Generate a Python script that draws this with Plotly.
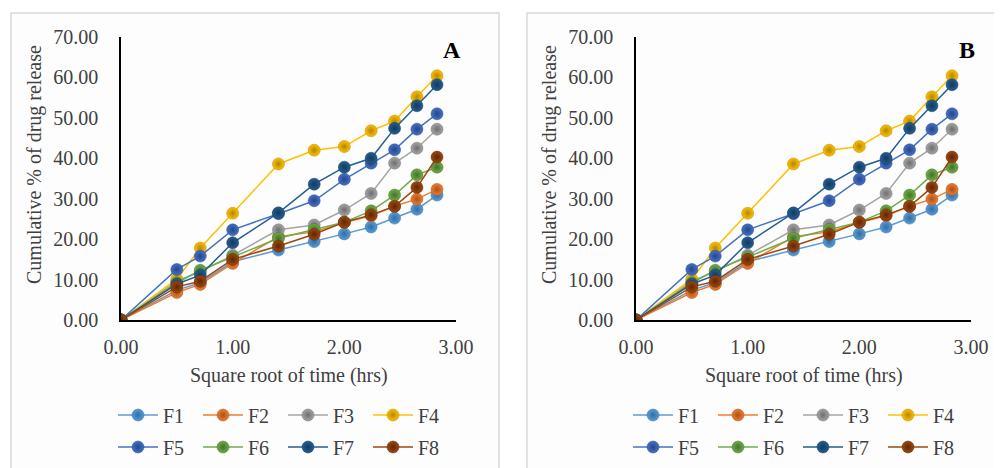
import plotly.graph_objects as go

# Data
sqrt_time = [0.00, 0.50, 0.71, 1.00, 1.41, 1.73, 2.00, 2.24, 2.45, 2.65, 2.83]
series_names = ["F1", "F2", "F3", "F4", "F5", "F6", "F7", "F8"]
F1 = [0, 7.4, 9.2, 14.4, 17.3, 19.4, 21.3, 23.0, 25.2, 27.4, 30.9]
F2 = [0, 6.8, 8.8, 14.0, 20.6, 21.8, 24.1, 25.8, 28.2, 29.9, 32.3]
F3 = [0, 9.6, 12.0, 16.0, 22.3, 23.5, 27.2, 31.3, 38.8, 42.5, 47.2]
F4 = [0, 10.1, 17.8, 26.4, 38.6, 42.0, 42.9, 46.8, 49.2, 55.2, 60.4]
F5 = [0, 12.5, 15.8, 22.3, 26.3, 29.5, 34.8, 38.8, 42.1, 47.2, 51.0]
F6 = [0, 9.2, 12.3, 15.6, 20.2, 22.4, 24.2, 27.0, 30.9, 35.9, 37.8]
F7 = [0, 8.9, 11.1, 19.1, 26.5, 33.6, 37.8, 40.0, 47.4, 53.0, 58.2]
F8 = [0, 8.2, 9.6, 15.0, 18.3, 21.2, 24.2, 26.0, 28.1, 32.8, 40.3]
series_values = [F1, F2, F3, F4, F5, F6, F7, F8]
y_ticks = [0, 10, 20, 30, 40, 50, 60, 70]
x_ticks = [0, 1, 2, 3]
panel_labels = ["A", "B"]

colors = ["#5B9BD5", "#ED7D31", "#A5A5A5", "#FFC000",
          "#4472C4", "#70AD47", "#255E91", "#9E480E"]
edge_colors = ["#2E6DA4", "#A8521A", "#6E6E6E", "#B38600",
               "#26458A", "#43712A", "#123A5E", "#5E2705"]

W, H = 1002, 468
OFF = 8  # page body margin
FONT = "Liberation Serif"
TXT = "#404040"
FS = 20


def sx(px):
    return (px - OFF) / W


def sy(py):
    return 1 - (py - OFF) / H


# panel geometry in screen pixels
panels = [
    dict(left=121, right=456, box=(11, 499)),
    dict(left=636, right=971, box=(527, 1030)),
]
y_top, y_bot = 37, 320

fig = go.Figure()

for p, panel in enumerate(panels):
    xa = "x" if p == 0 else "x2"
    ya = "y" if p == 0 else "y2"
    for i, (name, vals) in enumerate(zip(series_names, series_values)):
        leg_idx = 2 * p + (1 if i < 4 else 2)
        leg = "legend" if leg_idx == 1 else f"legend{leg_idx}"
        fig.add_trace(go.Scatter(
            x=sqrt_time, y=vals, name=name, mode="lines+markers",
            xaxis=xa, yaxis=ya, legend=leg,
            line=dict(color=colors[i], width=1.5),
            marker=dict(size=12, color=colors[i],
                        gradient=dict(type="radial", color=edge_colors[i]),
                        line=dict(width=0.5, color=edge_colors[i])),
            showlegend=True,
        ))

layout = dict(
    width=W, height=H,
    margin=dict(l=0, r=0, t=0, b=0, autoexpand=False),
    paper_bgcolor="white",
    plot_bgcolor="rgba(0,0,0,0)",
    font=dict(family=FONT, size=FS, color=TXT),
    showlegend=True,
)

for p, panel in enumerate(panels):
    s = "" if p == 0 else "2"
    layout["xaxis" + s] = dict(
        domain=[sx(panel["left"]), sx(panel["right"])],
        range=[0, 3], tickvals=x_ticks,
        ticktext=[f"{v:.2f}" for v in x_ticks],
        showgrid=False, zeroline=False, showline=True,
        linecolor="black", linewidth=1.5, ticks="",
        ticklabelstandoff=8, automargin=False,
        tickfont=dict(family=FONT, size=FS, color=TXT),
        anchor="y" + s, fixedrange=True,
    )
    layout["yaxis" + s] = dict(
        domain=[sy(y_bot), sy(y_top)],
        range=[0, 70], tickvals=y_ticks,
        ticktext=[f"{v:.2f}" for v in y_ticks],
        showgrid=False, zeroline=False, showline=True,
        linecolor="black", linewidth=1.5, ticks="",
        ticklabelstandoff=17, automargin=False,
        tickfont=dict(family=FONT, size=FS, color=TXT),
        anchor="x" + s, fixedrange=True,
    )

# legends: two rows per panel
leg_rows = [415, 447]
for p, panel in enumerate(panels):
    for r in range(2):
        idx = 2 * p + r + 1
        key = "legend" if idx == 1 else f"legend{idx}"
        layout[key] = dict(
            orientation="h", x=sx(panel["left"] - 8), xanchor="left",
            y=sy(leg_rows[r]), yanchor="middle",
            xref="container", yref="container",
            bgcolor="rgba(0,0,0,0)", itemwidth=40,
            entrywidth=30, entrywidthmode="pixels",
            font=dict(family=FONT, size=FS, color=TXT),
            itemclick=False, itemdoubleclick=False,
        )

shapes = []
for panel in panels:
    b0, b1 = panel["box"]
    shapes.append(dict(type="rect", xref="paper", yref="paper",
                       x0=sx(b0), x1=sx(b1), y0=-0.1, y1=sy(13),
                       line=dict(color="#D9D9D9", width=1.5),
                       fillcolor="#FDFDFD", layer="below"))
layout["shapes"] = shapes

annotations = []
for p, panel in enumerate(panels):
    cx = (panel["left"] + panel["right"]) / 2
    annotations.append(dict(text="Square root of time (hrs)", xref="paper", yref="paper",
                            x=sx(cx), y=sy(375), showarrow=False,
                            xanchor="center", yanchor="middle",
                            font=dict(family=FONT, size=FS, color=TXT)))
    annotations.append(dict(text="Cumulative % of drug release", xref="paper", yref="paper",
                            x=sx(panel["left"] - 86), y=sy(165), showarrow=False,
                            textangle=-90, xanchor="center", yanchor="middle",
                            font=dict(family=FONT, size=FS, color=TXT)))
    annotations.append(dict(text="<b>" + panel_labels[p] + "</b>", xref="paper", yref="paper",
                            x=sx(panel["right"] - 4), y=sy(50), showarrow=False,
                            xanchor="center", yanchor="middle",
                            font=dict(family=FONT, size=24, color="black")))
layout["annotations"] = annotations

fig.update_layout(**layout)
fig.write_html("out.html")
